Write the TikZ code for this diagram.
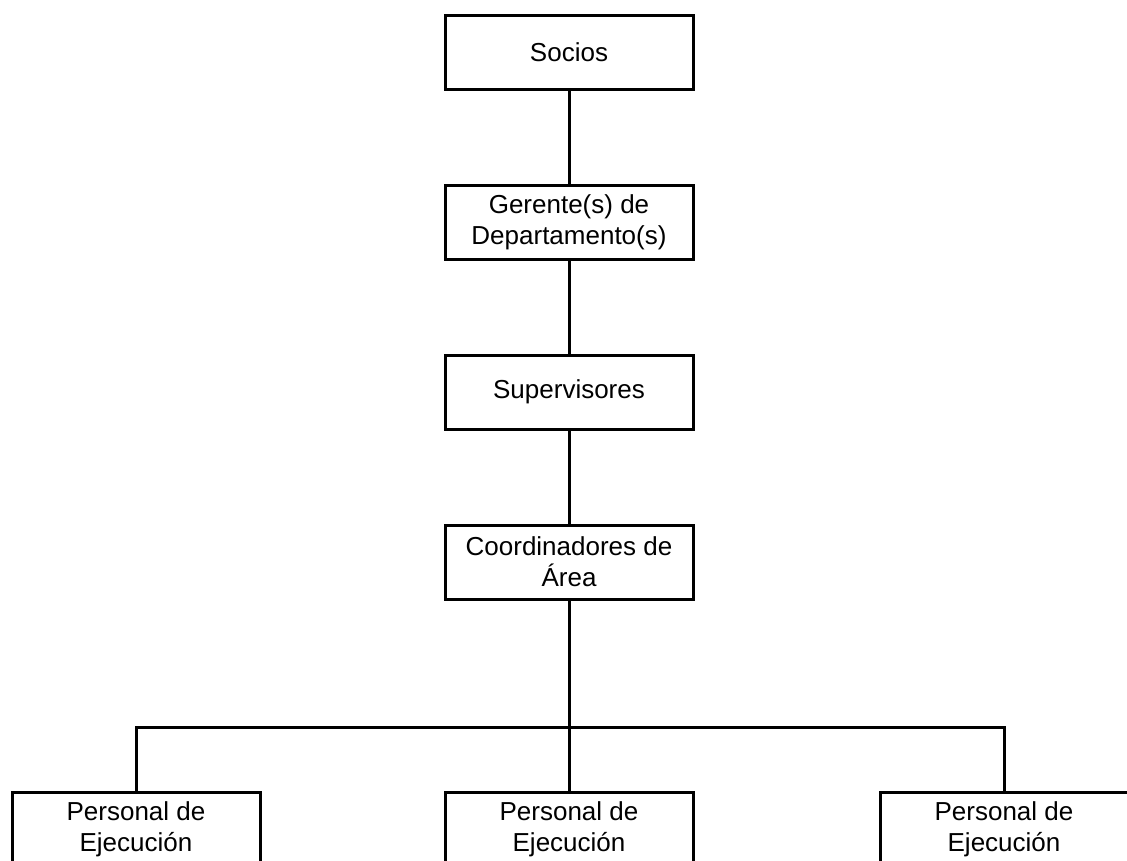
\documentclass[tikz,border=0pt]{standalone}
\usepackage{fontspec}
\setmainfont{Liberation Sans}
\begin{document}
\begin{tikzpicture}[x=1pt,y=-1pt,
  orgbox/.style={draw=black,line width=3pt,minimum width=248pt,minimum height=74pt,
    inner sep=0pt,align=center,font=\fontsize{26}{31}\selectfont},
  link/.style={draw=black,line width=3pt}]
  \useasboundingbox (0,0) rectangle (1127,860);
  \clip (0,0) rectangle (1127,860);
  % chain of command
  \node[orgbox] (socios) at (569,52) {Socios};
  \node[orgbox] (gerente) at (569,222) {Gerente(s) de\\Departamento(s)};
  \node[orgbox] (super) at (569,392) {Supervisores};
  \node[orgbox] (coord) at (569,562) {Coordinadores de\\Área};
  % staff level
  \node[orgbox] (pe1) at (136,829) {Personal de\\Ejecución};
  \node[orgbox] (pe2) at (569,829) {Personal de\\Ejecución};
  \node[orgbox] (pe3) at (1004,829) {Personal de\\Ejecución};
  \coordinate (bus) at (569,727);
  \draw[link] (socios.south) -- (gerente.north);
  \draw[link] (gerente.south) -- (super.north);
  \draw[link] (super.south) -- (coord.north);
  \draw[link] (coord.south) -- (pe2.north);
  \draw[link] (pe1.north) |- (bus) -| (pe3.north);
\end{tikzpicture}
\end{document}
